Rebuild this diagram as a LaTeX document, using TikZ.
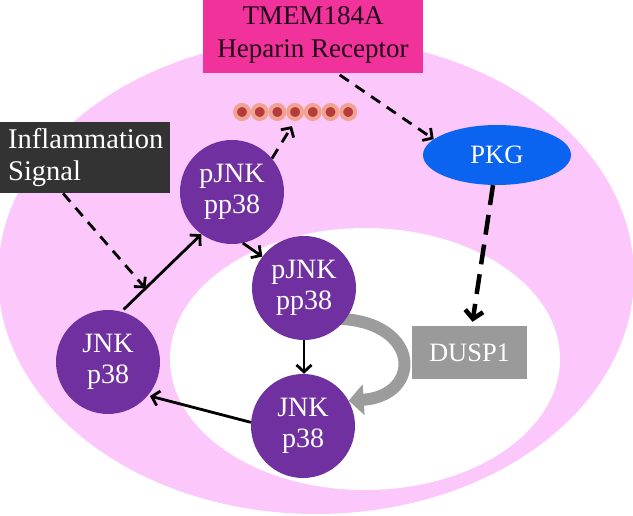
\documentclass[tikz,border=0pt]{standalone}
\usepackage{fontspec}
\setmainfont{Liberation Serif}
\usetikzlibrary{arrows.meta,calc,shapes.geometric}
\definecolor{cellpink}{HTML}{FCC8FC}
\definecolor{nodepurple}{HTML}{7030A0}
\definecolor{tmemcol}{HTML}{F0329A}
\definecolor{tmemtext}{HTML}{200818}
\definecolor{inflam}{HTML}{333333}
\definecolor{pkgblue}{HTML}{0A64F0}
\definecolor{duspgray}{HTML}{9A9A9A}
\definecolor{arrowgray}{HTML}{9C9C9C}
\definecolor{halo}{HTML}{F2A290}
\definecolor{core}{HTML}{B43C3C}
\pgfdeclarelayer{back}
\pgfdeclarelayer{mid}
\pgfsetlayers{back,mid,main}
\begin{document}
\begin{tikzpicture}[x=1pt,y=-1pt,
  every node/.style={font=\fontsize{26.5}{30}\selectfont},
  kinase/.style={circle,fill=nodepurple,text=white,minimum size=104pt,inner sep=0pt,align=center,font=\fontsize{28}{31}\selectfont},
  dotnode/.style={circle,fill=core,draw=halo,line width=4pt,minimum size=14pt,inner sep=0pt},
  solidarrow/.style={line width=2.8pt,-{Straight Barb[length=7pt,width=15pt]}},
  dasharrow/.style={solidarrow,dash pattern=on 11pt off 8pt},
  bigdash/.style={line width=4.5pt,dash pattern=on 20pt off 10pt,-{Straight Barb[length=8pt,width=18pt]}},
]
\useasboundingbox (0,0) rectangle (633,516);

% nodes
\node[kinase] (pt) at (232,192) {pJNK\\pp38};
\node[kinase] (pm) at (304,288) {pJNK\\pp38};
\node[kinase] (jb) at (303,426) {JNK\\p38};
\node[kinase] (jl) at (108,362) {JNK\\p38};
\node[ellipse,fill=pkgblue,text=white,minimum width=148pt,minimum height=60pt,inner sep=0pt] (pkg) at (497,155) {PKG};
\node[fill=duspgray,text=white,minimum width=115pt,minimum height=53pt,inner sep=0pt] (dusp) at (469.5,352.5) {DUSP1};
\node[fill=tmemcol,text=tmemtext,minimum width=220pt,minimum height=76pt,inner sep=0pt,align=center,font=\fontsize{27}{33}\selectfont] (tmem) at (313,35) {TMEM184A\\Heparin Receptor};
\node[fill=inflam,text=white,text width=154pt,inner xsep=8pt,inner ysep=0pt,minimum height=71pt,align=left,anchor=north west,font=\fontsize{28.5}{32}\selectfont] (inf) at (0,122) {Inflammation\\Signal};
\foreach \i in {1,...,7} \node[dotnode] (d\i) at ({242+17.7*(\i-1)},112) {};

% background ellipses
\begin{pgfonlayer}{back}
\fill[cellpink] (316,276) ellipse [x radius=318, y radius=238];
\fill[white] (365,359) ellipse [x radius=195, y radius=131];
\end{pgfonlayer}

% gray curved arrow
\begin{pgfonlayer}{mid}
\draw[line width=12pt,draw=arrowgray,-{Triangle[length=15pt,width=30pt]}]
  ($(pm.-36)+(-8,0)$) .. controls (422,322) and (422,396) .. (jb.29);
\end{pgfonlayer}

% connectors
\coordinate (hit) at ($(jl.75)!0.3!(pt.234)$);
\draw[solidarrow,shorten <=3pt] (jl.75) -- (pt.234);
\draw[dasharrow] ($(inf.south west)!0.37!(inf.south east)$) -- (hit);
\draw[solidarrow] (pt.282) -- (pm.143);
\draw[solidarrow] (pm.south) -- (pm.south |- jb.north);
\draw[solidarrow,shorten >=2pt] (jb.176) -- (jl.-40);
\draw[dasharrow,shorten >=6pt] (pt.40) -- (d4.south);
\draw[dasharrow,shorten <=3pt] ($(tmem.south west)!0.61!(tmem.south east)$) -- (pkg.166);
\draw[bigdash] ($(pkg.south)+(-4,0)$) -- ($(dusp.north)+(3,-4)$);
\end{tikzpicture}
\end{document}
